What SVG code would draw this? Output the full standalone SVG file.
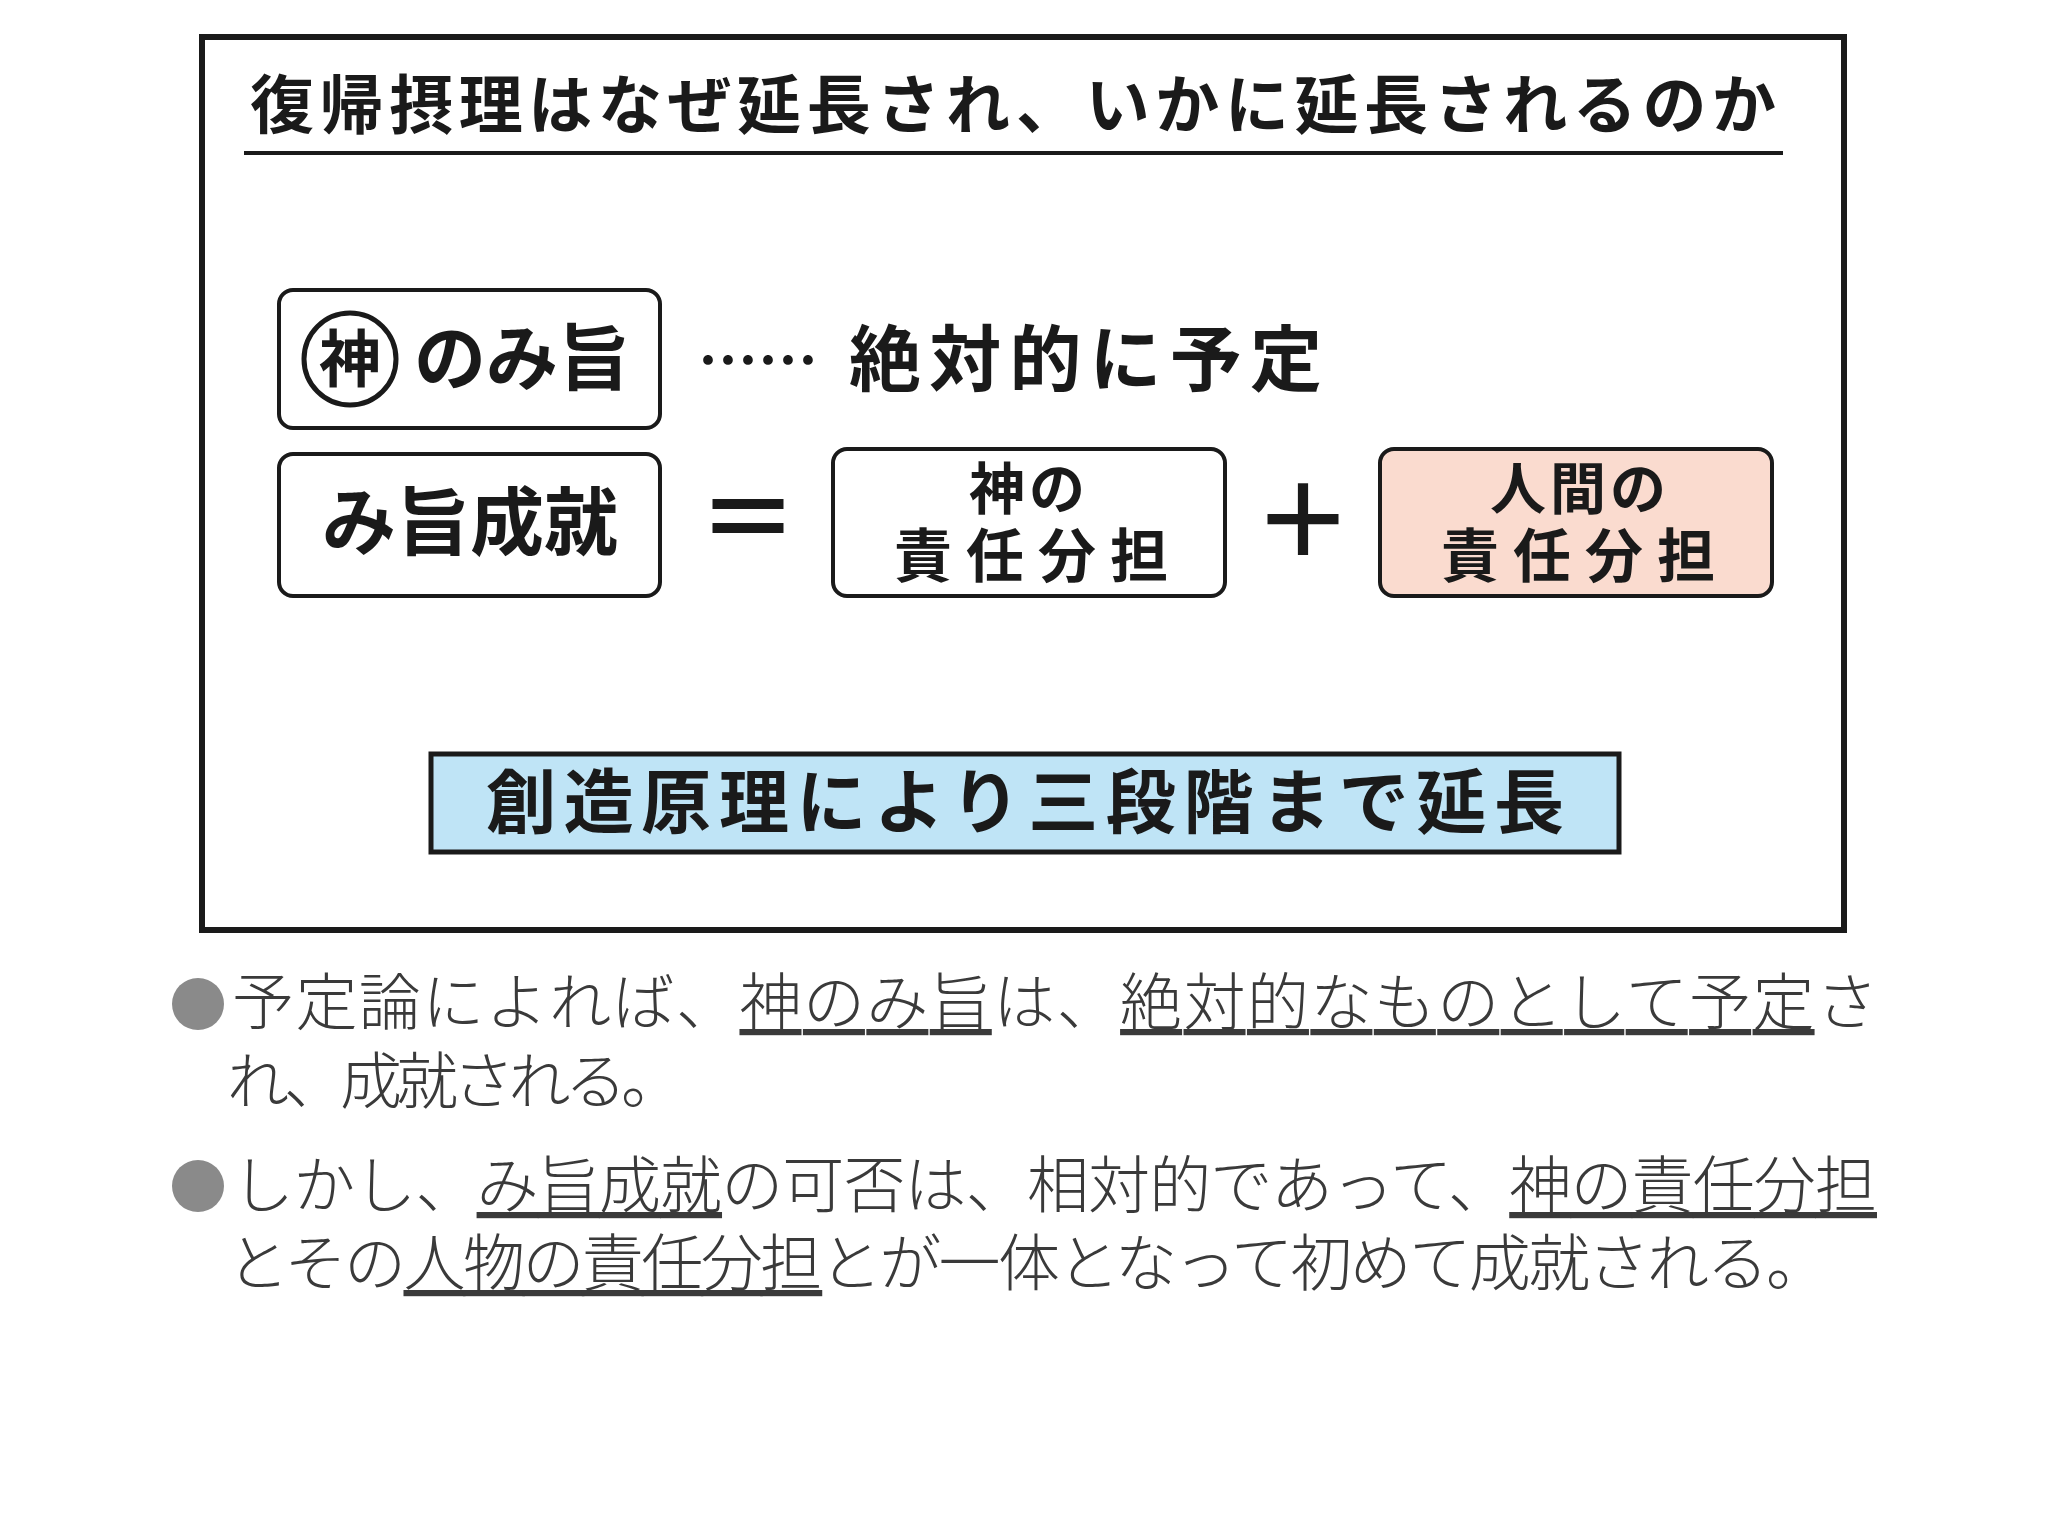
<svg xmlns="http://www.w3.org/2000/svg" width="2048" height="1536" viewBox="0 0 2048 1536">
<style>
.b{font-family:"Noto Sans CJK JP","Noto Sans CJK SC",sans-serif;font-weight:700;fill:#1a1a1a}
.p{font-family:"Noto Sans CJK JP","Noto Sans CJK SC",sans-serif;font-weight:300;fill:#3a3a3a;font-size:62px}
.box{fill:#fff;stroke:#1a1a1a;stroke-width:4}
.u{text-decoration:underline}
</style>
<rect width="2048" height="1536" fill="#fff"/>
<rect x="202" y="37" width="1642" height="893" fill="none" stroke="#1a1a1a" stroke-width="6"/>
<g id="title">
<text class="b" x="250" y="128" font-size="64" textLength="1526" lengthAdjust="spacing">復帰摂理はなぜ延長され、いかに延長されるのか</text>
<line x1="244" y1="153" x2="1783" y2="153" stroke="#1a1a1a" stroke-width="4"/>
</g>
<g id="n1">
<rect class="box" x="279" y="290" width="381" height="138" rx="14"/>
<circle cx="350" cy="359" r="46" fill="none" stroke="#1a1a1a" stroke-width="5"/>
<text class="b" x="350" y="382" font-size="62" text-anchor="middle">神</text>
<text class="b" x="414" y="384" font-size="72">のみ旨</text>
</g>
<g id="n1label">
<text class="b" x="698" y="383" font-size="60">……</text>
<text class="b" x="849" y="385" font-size="72" textLength="473" lengthAdjust="spacing">絶対的に予定</text>
</g>
<g id="n2">
<rect class="box" x="279" y="454" width="381" height="142" rx="14"/>
<text class="b" x="470" y="549" font-size="74" text-anchor="middle">み旨成就</text>
</g>
<g id="eq"><text class="b" x="748" y="555" font-size="100" text-anchor="middle">＝</text></g>
<g id="n3">
<rect class="box" x="833" y="449" width="392" height="147" rx="14"/>
<text class="b" x="1029" y="509" font-size="56" text-anchor="middle" letter-spacing="4">神の</text>
<text class="b" x="894" y="577" font-size="58" textLength="274" lengthAdjust="spacing">責任分担</text>
</g>
<g id="plus"><text class="b" x="1303" y="557" font-size="100" text-anchor="middle">＋</text></g>
<g id="n4">
<rect class="box" x="1380" y="449" width="392" height="147" rx="14" style="fill:#fadbcf"/>
<text class="b" x="1580" y="509" font-size="56" text-anchor="middle" letter-spacing="4">人間の</text>
<text class="b" x="1441" y="577" font-size="58" textLength="274" lengthAdjust="spacing">責任分担</text>
</g>
<g id="n5">
<rect x="431" y="754" width="1188" height="98" fill="#bfe4f6" stroke="#1a1a1a" stroke-width="5"/>
<text class="b" x="486" y="828" font-size="70" textLength="1078" lengthAdjust="spacing">創造原理により三段階まで延長</text>
</g>
<g id="para">
<circle cx="198" cy="1004" r="26" fill="#8a8a8a"/>
<text class="p" x="232" y="1025" textLength="1646" lengthAdjust="spacing">予定論によれば、<tspan class="u">神のみ旨</tspan>は、<tspan class="u">絶対的なものとして予定</tspan>さ</text>
<text class="p" x="227" y="1104" textLength="456" lengthAdjust="spacing">れ、成就される。</text>
<circle cx="198" cy="1186" r="26" fill="#8a8a8a"/>
<text class="p" x="232" y="1208" textLength="1645" lengthAdjust="spacing">しかし、<tspan class="u">み旨成就</tspan>の可否は、相対的であって、<tspan class="u">神の責任分担</tspan></text>
<text class="p" x="227" y="1286" textLength="1601" lengthAdjust="spacing">とその<tspan class="u">人物の責任分担</tspan>とが一体となって初めて成就される。</text>
</g>
</svg>
